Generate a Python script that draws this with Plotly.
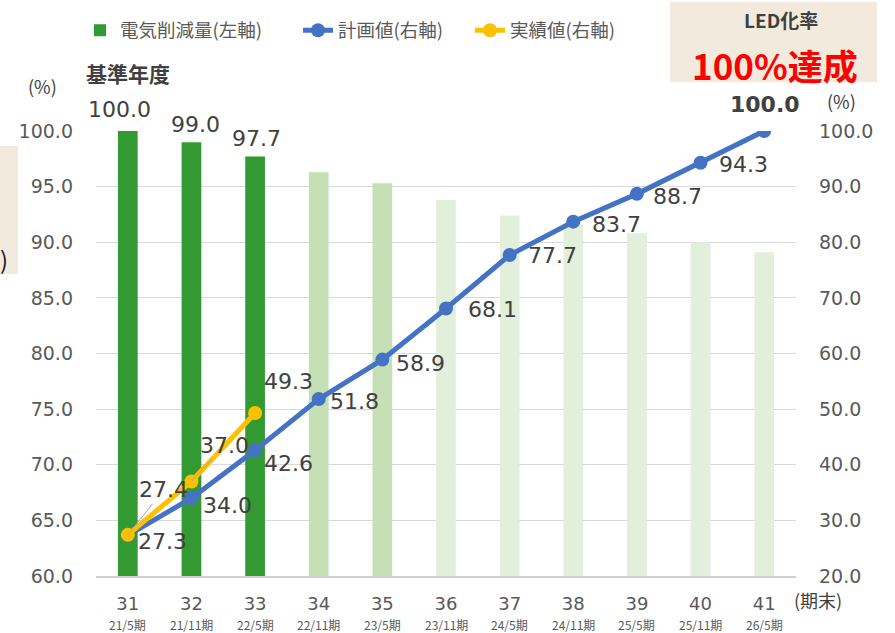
import plotly.graph_objects as go

# ---- data -------------------------------------------------------------
periods = ["31", "32", "33", "34", "35", "36", "37", "38", "39", "40", "41"]
period_sub = ["21/5期", "21/11期", "22/5期", "22/11期", "23/5期", "23/11期",
              "24/5期", "24/11期", "25/5期", "25/11期", "26/5期"]
power_reduction = [100.0, 99.0, 97.7, 96.3, 95.3, 93.8, 92.4, 91.6, 90.8, 90.0, 89.1]
plan_values = [27.3, 34.0, 42.6, 51.8, 58.9, 68.1, 77.7, 83.7, 88.7, 94.3, 100.0]
actual_values = [27.4, 37.0, 49.3]
actual_periods = periods[:len(actual_values)]

left_ticks = [60, 65, 70, 75, 80, 85, 90, 95, 100]
right_ticks = [20, 30, 40, 50, 60, 70, 80, 90, 100]

# ---- styling ----------------------------------------------------------
DARK = "#339A33"
MID = "#C5E0B4"
LIGHT = "#E2EFDA"
BLUE = "#4472C4"
YELLOW = "#FFC000"
TXT = "#404040"
TICK = "#595959"
NUM_FONT = "DejaVu Sans"
JP_FONT = "Noto Sans CJK JP"

bar_colors = [DARK] * 3 + [MID] * 2 + [LIGHT] * 6
idx = list(range(len(periods)))  # category positions on the x axis


def px_x(px):
    """horizontal pixel -> paper fraction (plot spans 96..796)"""
    return (px - 96) / 700


def px_y(py):
    """vertical pixel -> paper fraction (plot spans 576..128)"""
    return (576 - py) / 448


fig = go.Figure()

fig.add_trace(go.Bar(
    x=periods, y=power_reduction, name="電気削減量(左軸)",
    marker=dict(color=bar_colors, line=dict(width=0)),
    width=0.31, yaxis="y", hoverinfo="skip", legend="legend",
))
fig.add_trace(go.Scatter(
    x=periods, y=plan_values, name="計画値(右軸)", mode="lines+markers",
    line=dict(color=BLUE, width=5), marker=dict(size=14, color=BLUE),
    yaxis="y2", legend="legend2",
))
fig.add_trace(go.Scatter(
    x=actual_periods, y=actual_values, name="実績値(右軸)", mode="lines+markers",
    line=dict(color=YELLOW, width=5), marker=dict(size=14, color=YELLOW),
    yaxis="y2", legend="legend3",
))

ann = []
num_font = dict(family=NUM_FONT, size=22, color=TXT)

# bar value labels (first three periods only)
bar_label_shift = [(-8, 22), (4, 18), (1, 18)]
for i, (dx, dy) in enumerate(bar_label_shift):
    ann.append(dict(x=idx[i], y=power_reduction[i], xref="x", yref="y",
                    text=f"{power_reduction[i]:.1f}", showarrow=False,
                    xanchor="center", yanchor="middle",
                    xshift=dx, yshift=dy, font=num_font))

# plan line labels
plan_shift = [(35, -6), (36, -7), (33, -13), (36, -2), (38, -4), (46, -1),
              (43, 0), (43, -3), (41, -3), (43, -2)]
for i, (dx, dy) in enumerate(plan_shift):
    ann.append(dict(x=idx[i], y=plan_values[i], xref="x", yref="y2",
                    text=f"{plan_values[i]:.1f}", showarrow=False,
                    xanchor="center", yanchor="middle",
                    xshift=dx, yshift=dy, font=num_font))
# final plan value, bold above the last point
ann.append(dict(x=idx[-1], y=plan_values[-1], xref="x", yref="y2",
                text=f"<b>{plan_values[-1]:.1f}</b>", showarrow=False,
                xanchor="center", yanchor="middle",
                xshift=1, yshift=27, font=num_font))

# actual line labels (first two with leader lines)
actual_offsets = [(36, -45), (33, -36)]
for i, (dx, dy) in enumerate(actual_offsets):
    ann.append(dict(x=idx[i], y=actual_values[i], xref="x", yref="y2",
                    text=f"{actual_values[i]:.1f}", showarrow=True,
                    arrowhead=0, arrowwidth=1, arrowcolor="#A6A6A6",
                    ax=dx, ay=dy, standoff=0, font=num_font))
ann.append(dict(x=idx[2], y=actual_values[2], xref="x", yref="y2",
                text=f"{actual_values[2]:.1f}", showarrow=False,
                xanchor="center", yanchor="middle",
                xshift=33, yshift=32, font=num_font))

# period sub-labels under the category numbers
for i, s in zip(idx, period_sub):
    ann.append(dict(x=i, y=px_y(625), xref="x", yref="paper", text=s,
                    showarrow=False, xanchor="center", yanchor="middle",
                    borderpad=0,
                    font=dict(family=JP_FONT, size=12, color=TICK)))


def caption(px, py, text, size, color=TXT, xanchor="center", family=JP_FONT):
    return dict(x=px_x(px), y=px_y(py), xref="paper", yref="paper",
                text=text, showarrow=False, xanchor=xanchor, yanchor="middle",
                font=dict(family=family, size=size, color=color))


ann += [
    caption(43, 83, "(%)", 18),
    caption(128, 70, "<b>基準年度</b>", 21),
    caption(842, 98, "(%)", 18),
    caption(818, 600, "(期末)", 18),
    caption(781, 16, "<b>LED化率</b>", 19),
    caption(775, 61, "<b>100%達成</b>", 35, color="#FF0000"),
    caption(10, 256, ")", 24, color="#222222", xanchor="right"),
]

shapes = [
    dict(type="rect", xref="paper", yref="paper", layer="below",
         x0=px_x(670), x1=px_x(877), y0=px_y(79), y1=px_y(-2),
         fillcolor="#F2EADC", line=dict(width=0)),
    dict(type="rect", xref="paper", yref="paper", layer="below",
         x0=px_x(-2), x1=px_x(18), y0=px_y(272), y1=px_y(143),
         fillcolor="#F2EADC", line=dict(width=0)),
]

legend_common = dict(orientation="h", xanchor="left", yanchor="middle",
                     font=dict(family=JP_FONT, size=18.5, color=TICK),
                     bgcolor="rgba(0,0,0,0)", itemwidth=30)

fig.update_layout(
    width=895, height=633,
    margin=dict(l=96, r=99, t=128, b=57),
    paper_bgcolor="white", plot_bgcolor="white",
    font=dict(family=JP_FONT, color=TICK),
    showlegend=True,
    legend=dict(x=px_x(80), y=px_y(27), **legend_common),
    legend2=dict(x=px_x(298), y=px_y(27), **legend_common),
    legend3=dict(x=px_x(470), y=px_y(27), **legend_common),
    xaxis=dict(type="category", categoryorder="array", categoryarray=periods,
               tickmode="array", tickvals=periods, ticktext=periods,
               range=[-0.5, 10.5], showgrid=False, zeroline=False,
               showline=True, linecolor="#D0D0D0", linewidth=2,
               ticks="", ticklabelstandoff=10,
               tickfont=dict(family=NUM_FONT, size=18, color=TICK)),
    yaxis=dict(range=[60, 100], tickvals=left_ticks, tickformat=".1f",
               showgrid=True, gridcolor="#D9D9D9", gridwidth=1.3,
               zeroline=False, showline=False, ticks="",
               ticklabelstandoff=22,
               tickfont=dict(family=NUM_FONT, size=19, color=TICK)),
    yaxis2=dict(range=[20, 100], tickvals=right_ticks, tickformat=".1f",
                overlaying="y", side="right", showgrid=False,
                zeroline=False, showline=False, ticks="",
                ticklabelstandoff=22,
                tickfont=dict(family=NUM_FONT, size=19, color=TICK)),
    annotations=ann,
    shapes=shapes,
)

fig.write_html("out.html")
